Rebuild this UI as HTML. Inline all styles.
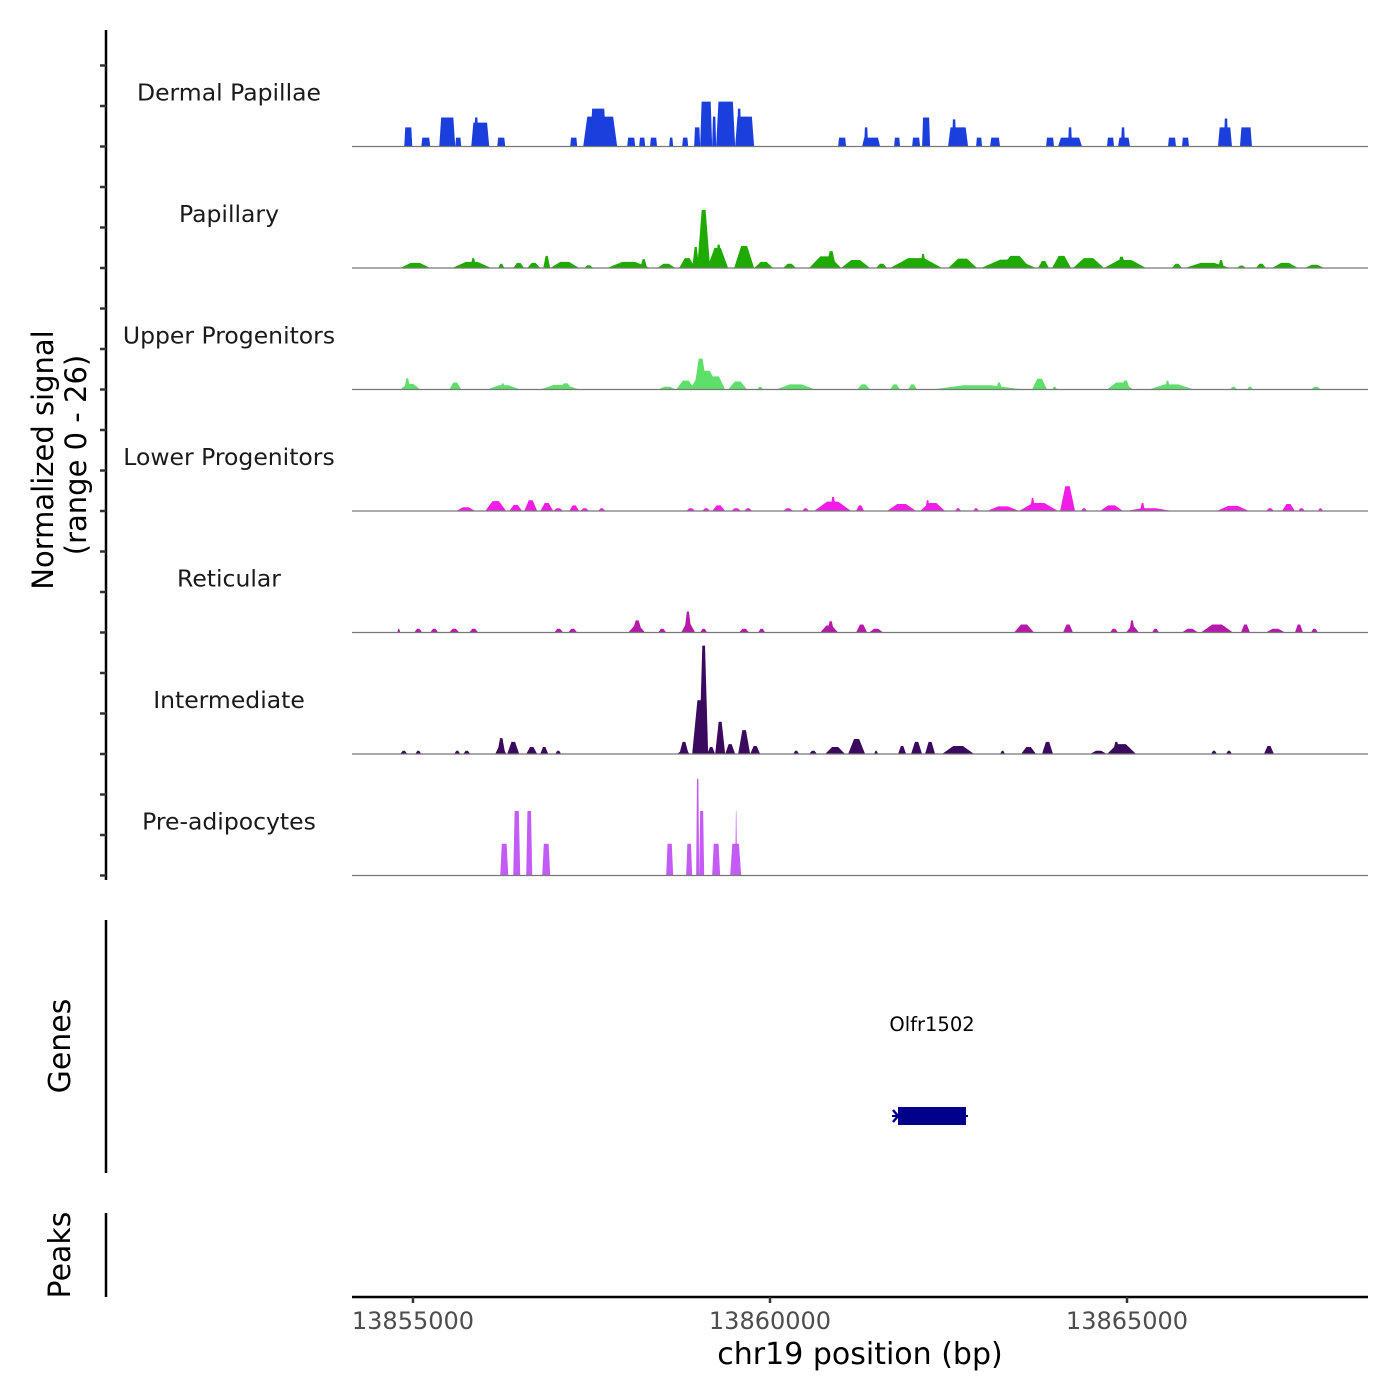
<!DOCTYPE html>
<html><head><meta charset="utf-8"><style>
html,body{margin:0;padding:0;background:#fff;}
svg{display:block;font-family:"DejaVu Sans","Liberation Sans",sans-serif;}
</style></head><body>
<svg id="chart" width="1400" height="1400" viewBox="0 0 1400 1400">
<g id="axes">
  <line x1="106" y1="30" x2="106" y2="880" stroke="#000" stroke-width="2.5"/>
  <g id="yticks"></g>
  <text transform="translate(53,460) rotate(-90)" text-anchor="middle" font-size="29" fill="#000">Normalized signal</text>
  <text transform="translate(86,455) rotate(-90)" text-anchor="middle" font-size="29" fill="#000">(range 0 - 26)</text>
  <line x1="106" y1="920" x2="106" y2="1173" stroke="#000" stroke-width="2.5"/>
  <text transform="translate(70,1046) rotate(-90)" text-anchor="middle" font-size="30" fill="#000">Genes</text>
  <line x1="106" y1="1213" x2="106" y2="1297" stroke="#000" stroke-width="2.5"/>
  <text transform="translate(70,1255) rotate(-90)" text-anchor="middle" font-size="30" fill="#000">Peaks</text>
  <line x1="352" y1="1297" x2="1368" y2="1297" stroke="#000" stroke-width="2.5"/>
  <g id="xticks"></g>
  <text x="860" y="1364" text-anchor="middle" font-size="30" fill="#000">chr19 position (bp)</text>
</g>
<g id="tracks"></g>
<g id="genes">
  <text x="932" y="1031" text-anchor="middle" font-size="19.5" fill="#000">Olfr1502</text>
  <line x1="892" y1="1116" x2="968" y2="1116" stroke="#00008B" stroke-width="2"/>
  <polyline points="893,1110 898,1116 893,1122" fill="none" stroke="#00008B" stroke-width="2.5"/>
  <rect x="898" y="1107" width="68" height="18" fill="#00008B"/>
</g>
</svg>
<script>
const xDomain=[13854146,13868375];
const xTickValues=[13855000,13860000,13865000];
const xTickLabels=["13855000","13860000","13865000"];
const trackNames=["Dermal Papillae","Papillary","Upper Progenitors","Lower Progenitors","Reticular","Intermediate","Pre-adipocytes"];
const trackColors=["#1a3fdc","#1faa00","#5ddf6a","#f01de6","#b51aaa","#3b0a5e","#c35bf5"];
const yMax=26;
// features: [startBp, endBp, value]
const dermalPapillae=[[13854878,13854990,4.1],[13855116,13855242,1.9],[13855368,13855592,6.2],[13855592,13855676,1.9],[13855816,13856068,5.1],[13855858,13855914,6.2],[13856180,13856292,1.9],[13857202,13857300,1.9],[13857384,13857860,6.4],[13857482,13857706,8.1],[13858000,13858112,1.9],[13858168,13858252,1.9],[13858320,13858418,1.9],[13858588,13858644,1.9],[13858770,13858854,1.9],[13858938,13859022,4.1],[13859022,13859190,9.6],[13859190,13859246,6.4],[13859246,13859512,9.6],[13859512,13859778,6.4],[13859540,13859596,8.1],[13860954,13861066,1.9],[13861290,13861542,1.9],[13861318,13861374,4.1],[13861738,13861822,1.9],[13861990,13862102,1.9],[13862130,13862242,6.2],[13862494,13862774,4.1],[13862550,13862606,5.8],[13862886,13862970,1.9],[13863082,13863222,1.9],[13863866,13863978,1.9],[13864034,13864370,1.9],[13864174,13864230,4.1],[13864720,13864818,1.9],[13864874,13865042,1.9],[13864916,13864972,4.1],[13865574,13865686,1.9],[13865770,13865868,1.9],[13866274,13866470,4.1],[13866358,13866414,6.0],[13866582,13866750,4.1]];
const papillary=[[13854822,13855242,1.1],[13855550,13856096,1.3],[13855802,13855886,2.1],[13856194,13856278,0.9],[13856404,13856558,1.1],[13856600,13856782,1.1],[13856824,13856922,2.6],[13856922,13857328,1.3],[13857398,13857524,0.6],[13857720,13858322,1.3],[13858182,13858280,1.9],[13858420,13858672,0.9],[13858728,13858952,2.1],[13858910,13859008,4.5],[13858980,13859162,12.4],[13859120,13859414,4.3],[13859232,13859330,5.0],[13859498,13859778,4.7],[13859778,13860044,1.3],[13860184,13860366,0.9],[13860548,13860996,2.5],[13860786,13860926,3.6],[13860996,13861402,1.7],[13861486,13861640,0.9],[13861682,13862410,2.1],[13862102,13862186,3.0],[13862494,13862900,2.0],[13862956,13863726,1.8],[13863222,13863642,2.6],[13863754,13863908,1.5],[13863950,13864216,2.6],[13864244,13864678,2.1],[13864678,13865266,1.7],[13864860,13864986,2.4],[13865630,13865770,0.9],[13865812,13866442,1.1],[13866274,13866358,1.7],[13866540,13866666,0.5],[13866806,13866946,0.9],[13867030,13867394,1.1],[13867492,13867758,0.7]];
const upperProgenitors=[[13854822,13855102,1.2],[13854878,13854962,2.4],[13855508,13855676,1.5],[13856040,13856502,0.9],[13856222,13856292,1.3],[13856782,13857328,1.0],[13857048,13857230,1.3],[13858434,13858686,0.6],[13858686,13858952,1.9],[13858882,13859302,4.0],[13858938,13859120,6.6],[13859120,13859372,2.8],[13859414,13859680,1.7],[13859820,13859904,0.6],[13860086,13860632,1.1],[13861220,13861402,1.1],[13861682,13861822,1.1],[13861934,13862060,1.1],[13862270,13863544,0.9],[13863166,13863250,1.5],[13863670,13863880,2.3],[13863950,13864020,0.6],[13864720,13865084,1.5],[13864916,13865042,1.9],[13865308,13865938,1.1],[13865532,13865602,1.9],[13866442,13866540,0.6],[13866680,13866764,0.6],[13867576,13867716,0.6]];
const lowerProgenitors=[[13855606,13855872,0.8],[13856012,13856306,2.1],[13856348,13856530,1.3],[13856558,13856740,2.3],[13856782,13856964,1.7],[13856964,13857104,0.6],[13857188,13857328,1.2],[13857342,13857468,0.6],[13857594,13857692,0.6],[13858826,13858952,0.6],[13859050,13859162,0.6],[13859190,13859372,1.2],[13859456,13859596,0.6],[13859638,13859750,0.6],[13860184,13860324,0.6],[13860450,13860548,0.6],[13860618,13861136,2.0],[13860842,13860926,3.0],[13861206,13861318,1.2],[13861640,13862046,1.5],[13862102,13862452,1.7],[13862172,13862242,2.3],[13862592,13862676,0.6],[13862844,13862928,0.6],[13863040,13863488,1.0],[13863488,13864034,1.7],[13863642,13863712,2.8],[13864062,13864272,5.3],[13864356,13864440,0.6],[13864622,13864944,1.2],[13864986,13865630,0.6],[13865182,13865252,1.7],[13866260,13866708,1.1],[13866946,13867058,0.6],[13867170,13867352,1.5],[13867394,13867492,0.6],[13867674,13867744,0.6]];
const reticular=[[13854780,13854822,0.8],[13855018,13855130,0.8],[13855242,13855354,0.8],[13855508,13855648,0.8],[13855788,13855914,0.8],[13856978,13857104,0.8],[13857174,13857300,0.8],[13858014,13858252,1.4],[13858070,13858210,2.6],[13858434,13858546,0.8],[13858756,13858952,1.9],[13858800,13858900,4.5],[13859022,13859120,0.8],[13859568,13859708,0.8],[13859834,13859932,0.8],[13860702,13860954,1.5],[13860800,13860900,2.4],[13861206,13861360,1.7],[13861388,13861584,0.8],[13863418,13863698,1.7],[13864104,13864244,1.7],[13864762,13864874,0.8],[13864986,13865168,1.2],[13865030,13865110,2.6],[13865350,13865448,0.8],[13865770,13865994,0.8],[13866036,13866484,1.7],[13866596,13866722,1.7],[13866946,13867212,0.8],[13867352,13867464,1.7],[13867576,13867674,0.8]];
const intermediate=[[13854822,13854920,0.7],[13855032,13855116,0.7],[13855578,13855662,0.7],[13855704,13855802,0.7],[13856152,13856306,1.7],[13856180,13856292,3.4],[13856320,13856488,2.6],[13856586,13856740,1.5],[13856782,13856894,1.5],[13856992,13857076,0.7],[13858700,13858882,0.8],[13858730,13858860,2.6],[13858910,13859120,11.5],[13859008,13859134,23.2],[13859120,13859232,1.5],[13859232,13859372,6.9],[13859372,13859512,2.1],[13859554,13859722,5.1],[13859722,13859862,1.7],[13860324,13860408,0.7],[13860548,13860660,0.7],[13860772,13861052,1.5],[13861094,13861332,3.2],[13861458,13861514,0.7],[13861794,13861906,1.7],[13861976,13862130,2.6],[13862172,13862312,2.6],[13862410,13862858,1.7],[13863222,13863292,0.7],[13863516,13863726,1.5],[13863810,13863964,2.6],[13864482,13864720,0.7],[13864720,13865126,2.1],[13864800,13864900,2.6],[13866176,13866260,0.7],[13866386,13866470,0.7],[13866918,13867058,1.7]];
const preAdipocytes=[[13856222,13856334,6.8],[13856404,13856502,13.8],[13856586,13856670,13.8],[13856810,13856922,6.8],[13858546,13858644,6.8],[13858826,13858910,6.8],[13858966,13859008,20.7],[13859008,13859078,13.8],[13859190,13859302,6.8],[13859442,13859596,6.8],[13859512,13859540,13.8]];
const trackData=[dermalPapillae,papillary,upperProgenitors,lowerProgenitors,reticular,intermediate,preAdipocytes];
const trackSlope=[0.12,0.35,0.35,0.35,0.35,0.35,0.2];

const NS="http://www.w3.org/2000/svg";
const plotX0=352, plotX1=1368, trackTop=25, trackH=121.5;
function xScale(bp){return plotX0+(bp-xDomain[0])/(xDomain[1]-xDomain[0])*(plotX1-plotX0);}
function baseY(i){return trackTop+(i+1)*trackH;}
function yScale(i,v){return baseY(i)-v/yMax*trackH;}

const tracksG=document.getElementById('tracks');
trackData.forEach(function(feats,i){
  const g=document.createElementNS(NS,'g');
  
  
  const lbl=document.createElementNS(NS,'text');
  lbl.setAttribute('x',229);lbl.setAttribute('y',baseY(i)-46);
  lbl.setAttribute('text-anchor','middle');lbl.setAttribute('font-size','23.5');lbl.setAttribute('fill','#1a1a1a');
  lbl.textContent=trackNames[i];
  
  
  g.appendChild(lbl);
  feats.forEach(function(f){
    const x0=xScale(f[0]),x1=xScale(f[1]),w=x1-x0,s=Math.max(0.8,w*trackSlope[i]);
    const yb=baseY(i),yt=yScale(i,f[2]);
    const p=document.createElementNS(NS,'polygon');
    p.setAttribute('points',x0+','+yb+' '+(x0+s)+','+yt+' '+(x1-s)+','+yt+' '+x1+','+yb);
    p.setAttribute('fill',trackColors[i]);
    
    
    g.appendChild(p);
  });
  const bl=document.createElementNS(NS,'line');
  bl.setAttribute('x1',plotX0);bl.setAttribute('x2',plotX1);
  bl.setAttribute('y1',baseY(i));bl.setAttribute('y2',baseY(i));
  bl.setAttribute('stroke','#777');bl.setAttribute('stroke-width','1.2');
  
  
  g.appendChild(bl);
  tracksG.appendChild(g);
});

const yt=document.getElementById('yticks');
for(let i=0;i<7;i++){
  for(let k=0;k<3;k++){
    const y=baseY(i)-k*trackH/3;
    const t=document.createElementNS(NS,'line');
    t.setAttribute('x1',100);t.setAttribute('x2',106);t.setAttribute('y1',y);t.setAttribute('y2',y);
    t.setAttribute('stroke','#333');t.setAttribute('stroke-width','2.5');
    
    
    yt.appendChild(t);
  }
}
const xt=document.getElementById('xticks');
xTickValues.forEach(function(v,i){
  const x=xScale(v);
  const t=document.createElementNS(NS,'line');
  t.setAttribute('x1',x);t.setAttribute('x2',x);t.setAttribute('y1',1297);t.setAttribute('y2',1303);
  t.setAttribute('stroke','#333');t.setAttribute('stroke-width','2.5');
  
  
  xt.appendChild(t);
  const l=document.createElementNS(NS,'text');
  l.setAttribute('x',x);l.setAttribute('y',1329);l.setAttribute('text-anchor','middle');
  l.setAttribute('font-size','24');l.setAttribute('fill','#4d4d4d');
  l.textContent=xTickLabels[i];
  
  
  xt.appendChild(l);
});
</script>
</body></html>
